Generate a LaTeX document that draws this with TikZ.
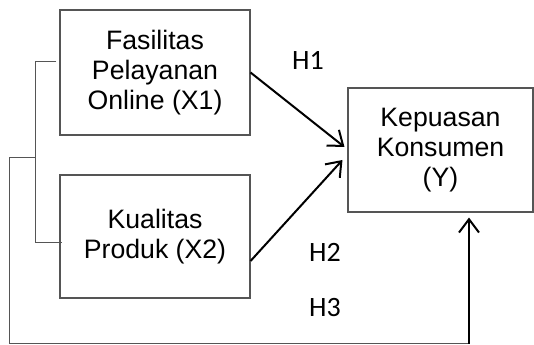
\documentclass[tikz,border=0pt]{standalone}
\usepackage{fontspec}
\setmainfont{Liberation Sans}
\newfontfamily\hfont{Carlito}
\usetikzlibrary{arrows.meta,positioning,calc}
\definecolor{garis}{RGB}{85,85,85}
\tikzset{
  kotak/.style={rectangle, draw=garis, line width=0.8pt, fill=white, align=center,
                font=\fontsize{20}{22.5}\selectfont, inner sep=0pt},
  hlabel/.style={font=\hfont\fontsize{21}{24}\selectfont, inner sep=0pt},
  panah/.style={-{Straight Barb[length=10pt,width=15pt,line width=1.5pt]}, line width=1.5pt, draw=black},
  tipis/.style={line width=0.75pt, draw=garis},
}

\begin{document}
\begin{tikzpicture}[x=0.75pt, y=-0.75pt]
        \useasboundingbox (0,0) rectangle (534,345);
        \node[kotak, minimum width=142.5pt, minimum height=93.75pt] (fas) at (155,72.5)
          {Fasilitas\\Pelayanan\\Online (X1)};
        \node[kotak, minimum width=142.5pt, minimum height=92.25pt] (kua) at (155,236.5)
          {Kualitas\\Produk (X2)};
        \node[kotak, minimum width=138.75pt, minimum height=93pt] (kep) at (440.5,150)
          {Kepuasan\\Konsumen\\(Y)};
        \node[hlabel] (h1) at (308,60) {H1};
        \node[hlabel] (h2) at (325,252) {H2};
        \node[hlabel] (h3) at (325,308) {H3};
        \coordinate (ka) at ($(fas.west)+(-24,-10.5)$);
        \coordinate (kb) at ($(kua.west)+(-24,5.5)$);
        \coordinate (km) at ($(ka)!0.53!(kb)$);
        \coordinate (sudut) at ($(kep.south)+(28.5,131)$);
        \draw[tipis] ($(fas.west)+(-3,-10.5)$) -- (ka) -- (kb) -- ($(kua.west)+(3,5.5)$);
        \draw[tipis] (km) -- ++(-26,0) |- (sudut);
        \draw[panah] (fas.east) -- ($(kep.west)+(-3,-3)$);
        \draw[panah] ($(kua.east)+(0,24.5)$) -- ($(kep.west)+(-5,10)$);
        \draw[panah] (sudut) -- ($(kep.south)+(28.5,5)$);
      \end{tikzpicture}
\end{document}
